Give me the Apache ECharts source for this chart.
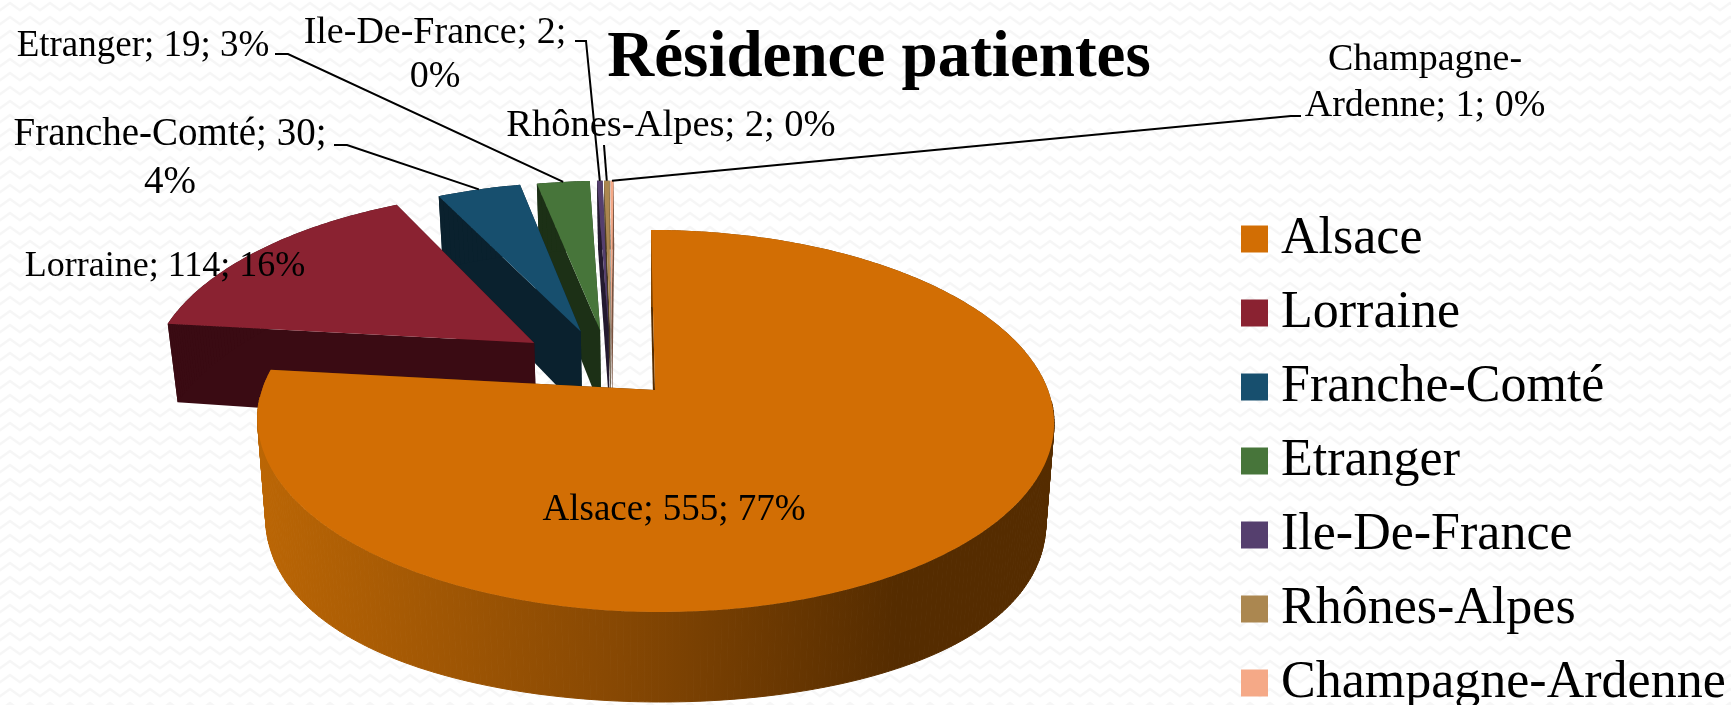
<!DOCTYPE html>
<html><head><meta charset="utf-8">
<style>html,body{margin:0;padding:0;background:#fff}#c{width:1731px;height:705px}</style>
<script src="https://cdn.jsdelivr.net/npm/echarts@6/dist/echarts.min.js"></script>
</head><body><div id="c"></div>
<script>
const categories = ['Alsace','Lorraine','Franche-Comté','Etranger','Ile-De-France','Rhônes-Alpes','Champagne-Ardenne'];
const values = [555,114,30,19,2,2,1];
const topColors = ['#d26e04','#8a2231','#174f6e','#47753a','#553f6e','#ab8750','#f5a987'];
const wallColors = ['#552c00','#3a0b13','#0a212e','#1c3016','#241a2f','#4a3a22','#7a5440'];
const titleText = 'Résidence patientes';

// Label layout: centre position, font size, line breaks, leader-line start points
const labelLayout = [
  {x:674,y:510,size:37},
  {x:165,y:267,size:36},
  {x:170,y:159,size:39,lh:48,breakAt:2,leader:[[334,145],[347,145]]},
  {x:143,y:46,size:37,leader:[[275,54],[288,54]]},
  {x:435,y:55,size:38,lh:44,breakAt:2,leader:[[575,41],[586,41]]},
  {x:671,y:126,size:38.5,leader:[[604,145]]},
  {x:1425,y:83,size:38,lh:46,wrap:true,leader:[[1301,116],[1291,116]]}
];

// Projected pie geometry
const APEX_X = 655, TOP_Y = 390, RX = 393, RY = 186, K = 0.162, TILT = 4.65;
const RXB = 385;
const EXPLODE_U = 0.25, EXPLODE_V = 0.18, ORIGIN_U = -0.112, ORIGIN_V = -0.161, REAR_STRETCH = 1.035;

const total = values.reduce((a,b)=>a+b,0);
const starts = []; { let c=0; values.forEach(v=>{starts.push(c/total*Math.PI*2); c+=v;}); }
const ends = values.map((v,i)=>starts[i]+v/total*Math.PI*2);
const mids = values.map((v,i)=>(starts[i]+ends[i])/2);
const dir = a => [Math.sin(a), -Math.cos(a)];
function apexOf(i){ if(i===0) return [0,0]; const d=dir(mids[i]); return [ORIGIN_U+EXPLODE_U*d[0], ORIGIN_V+EXPLODE_V*d[1]]; }
function topPt(p){ const s=1/(1-K*p[1]); return [APEX_X+RX*p[0]*s+TILT*p[1]*s, TOP_Y+RY*p[1]*s]; }
function botY(v){ return v>=-0.373 ? 484+218*v : 403+153*(v+0.373); }
function botPt(p){ const s=1/(1-K*p[1]); return [APEX_X+RXB*p[0]*s+TILT*p[1]*s, botY(p[1])]; }
function rimPt(i,a){ const A=apexOf(i), d=dir(a); return [A[0]+d[0],A[1]+d[1]*(i===0?1:REAR_STRETCH)]; }
function arc(i,a0,a1){ const n=Math.max(2,Math.ceil((a1-a0)/0.015)), r=[]; for(let j=0;j<=n;j++) r.push(rimPt(i,a0+(a1-a0)*j/n)); return r; }

function poly(points, fill, stroke){ return {type:'polygon',shape:{points},style:{fill,stroke:stroke||null,lineWidth:stroke?1:0},silent:true}; }

function sliceItem(i){
  return function(){
    const A=apexOf(i), rim=arc(i,starts[i],ends[i]);
    const c=[];
    const r0=rim[0], r1=rim[rim.length-1];
    const cap = (p)=>poly([topPt(A),topPt(p),botPt(p),botPt(A)], wallColors[i]);
    c.push(cap(r1)); c.push(cap(r0));
    const wallFill = i===0
      ? new echarts.graphic.LinearGradient(259,0,1055,0,[{offset:0,color:'#bb6605'},{offset:0.45,color:'#874803'},{offset:0.8,color:'#552c00'},{offset:1,color:'#552c00'}],true)
      : wallColors[i];
    for(let j=0;j<rim.length-1;j++){
      const seam = i===0 && rim[j][1]>0.05;
      c.push(poly([topPt(rim[j]),topPt(rim[j+1]),botPt(rim[j+1]),botPt(rim[j])], wallFill, seam?wallFill:null));
    }
    c.push(poly([topPt(A)].concat(rim.map(topPt)), topColors[i]));
    return {type:'group',children:c};
  };
}

function labelText(i){
  const pct=Math.round(values[i]/total*100), L=labelLayout[i], parts=[categories[i]+';',values[i]+';',pct+'%'];
  if(L.wrap) return 'Champagne-\n'+'Ardenne; '+values[i]+'; '+pct+'%';
  if(L.breakAt) return parts.slice(0,L.breakAt).join(' ')+'\n'+parts.slice(L.breakAt).join(' ');
  return parts.join(' ');
}
function annotations(){
  const c=[];
  labelLayout.forEach((L,i)=>{
    if(L.leader){
      const end=topPt(rimPt(i,mids[i]));
      c.push({type:'polyline',shape:{points:L.leader.concat([end])},style:{fill:null,stroke:'#000',lineWidth:2},silent:true});
    }
    c.push({type:'text',x:L.x,y:L.y,style:{text:labelText(i),fill:'#000',font:L.size+'px "Liberation Serif"',align:'center',verticalAlign:'middle',lineHeight:L.lh||46},silent:true});
  });
  return {type:'group',children:c};
}

function backgroundTile(){
  const t=document.createElement('canvas'); t.width=20; t.height=14;
  const g=t.getContext('2d'); g.fillStyle='#ffffff'; g.fillRect(0,0,20,14);
  g.strokeStyle='#f6f6f6'; g.lineWidth=2.5; g.beginPath();
  g.moveTo(-1,11); g.lineTo(10,3); g.lineTo(21,11); g.stroke();
  return t;
}

const series = categories.map((name,i)=>({
  type:'custom',name,coordinateSystem:'none',data:[values[i]],z:10+(categories.length-i),
  itemStyle:{color:topColors[i]},renderItem:sliceItem(i),silent:true,animation:false
}));
series.push({type:'custom',name:'labels',coordinateSystem:'none',data:[0],z:30,renderItem:annotations,silent:true,animation:false});

const chart = echarts.init(document.getElementById('c'));
chart.setOption({
  animation:false,
  backgroundColor:{image:backgroundTile(),repeat:'repeat'},
  title:{text:titleText,left:874,top:54,textAlign:'center',textVerticalAlign:'middle',textStyle:{fontFamily:'Liberation Serif',fontWeight:'bold',fontSize:65,color:'#000'}},
  legend:{data:categories,orient:'vertical',left:1241,top:213,height:520,padding:0,itemWidth:27,itemHeight:27,itemGap:22,icon:'rect',selectedMode:false,
    textStyle:{fontFamily:'Liberation Serif',fontSize:52,lineHeight:27,color:'#000',padding:[0,0,0,8]}},
  series
});
</script></body></html>
